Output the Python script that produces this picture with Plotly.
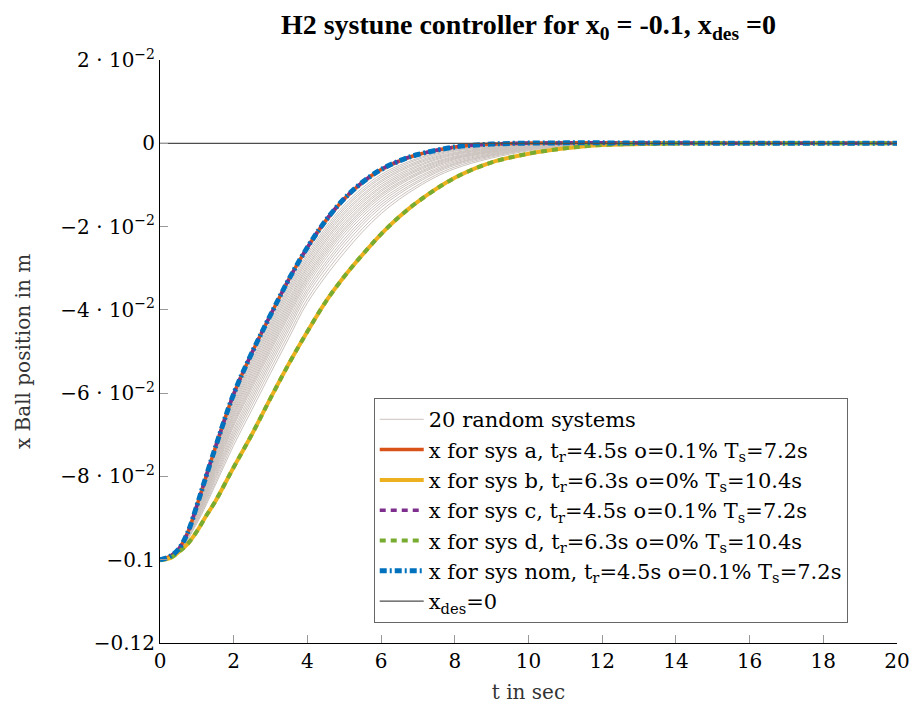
import plotly.graph_objects as go

# Time grid (s) for the detailed closed-loop responses
t_main = [0, 0.25, 0.5, 0.75, 1, 1.25, 1.5, 2, 2.5, 3, 3.5, 4, 4.5, 5, 5.5,
          6, 6.5, 7, 8, 9, 10, 11, 12, 14, 16, 18, 20]

# Fast designs (sys a, sys c, nominal) share the same response
x_fast = [-0.1, -0.0993, -0.0975, -0.0935, -0.0870, -0.0800, -0.0731, -0.0602,
          -0.0502, -0.0412, -0.0326, -0.0250, -0.0185, -0.0133, -0.0093,
          -0.0063, -0.0042, -0.0027, -0.0009, -0.0002, 0.00005, 0.0001,
          0.0001, 0.00005, 0.0, 0.0, 0.0]

# Slow designs (sys b, sys d)
x_slow = [-0.1, -0.0997, -0.0982, -0.0962, -0.0932, -0.0895, -0.0860, -0.0778,
          -0.0698, -0.0612, -0.0529, -0.0452, -0.0380, -0.0320, -0.0267,
          -0.0218, -0.0176, -0.0140, -0.0083, -0.0046, -0.0025, -0.0012,
          -0.0004, -0.00005, 0.0, 0.0, 0.0]

# 20 randomly perturbed plants, positions in units of 1e-4 m
t_rand = [0, 0.5, 1, 1.5, 2, 2.5, 3, 3.5, 4, 5, 6, 7, 8, 10, 12, 20]
x_rand_1e4 = [
    [-1000, -975, -872, -736, -609, -510, -420, -334, -258, -140, -69, -31, -12, -1, 0, 0],
    [-1000, -976, -875, -741, -616, -518, -428, -342, -265, -148, -75, -36, -15, -2, 0, 0],
    [-1000, -976, -877, -745, -621, -524, -434, -348, -271, -154, -80, -39, -17, -3, 0, 0],
    [-1000, -976, -879, -749, -627, -529, -440, -354, -277, -159, -84, -43, -19, -4, 0, 0],
    [-1000, -976, -881, -753, -632, -535, -446, -360, -282, -165, -89, -46, -22, -4, -1, 0],
    [-1000, -976, -882, -757, -637, -541, -452, -366, -288, -170, -93, -49, -24, -5, -1, 0],
    [-1000, -977, -884, -761, -643, -547, -458, -373, -294, -176, -98, -53, -26, -6, -1, 0],
    [-1000, -977, -886, -765, -648, -553, -464, -379, -299, -181, -103, -56, -28, -7, -1, 0],
    [-1000, -977, -888, -768, -653, -559, -470, -385, -305, -187, -107, -60, -31, -7, -1, 0],
    [-1000, -977, -890, -772, -658, -565, -476, -391, -311, -193, -112, -63, -33, -8, -1, 0],
    [-1000, -977, -892, -776, -664, -571, -482, -397, -317, -198, -116, -66, -35, -9, -1, 0],
    [-1000, -978, -894, -780, -669, -577, -488, -403, -322, -204, -121, -70, -37, -10, -1, 0],
    [-1000, -978, -895, -784, -674, -582, -494, -409, -328, -209, -125, -73, -39, -10, -2, 0],
    [-1000, -978, -897, -788, -679, -588, -500, -415, -334, -215, -130, -76, -42, -11, -2, 0],
    [-1000, -978, -900, -793, -687, -596, -508, -423, -341, -222, -136, -81, -45, -12, -2, 0],
    [-1000, -979, -902, -798, -694, -604, -516, -431, -349, -230, -142, -85, -48, -13, -2, 0],
    [-1000, -979, -905, -803, -701, -612, -524, -439, -356, -237, -148, -90, -50, -14, -2, 0],
    [-1000, -979, -907, -808, -708, -620, -532, -447, -364, -245, -154, -94, -53, -15, -3, 0],
    [-1000, -980, -910, -815, -716, -629, -542, -457, -374, -254, -162, -100, -57, -16, -3, 0],
    [-1000, -980, -913, -821, -725, -639, -552, -467, -383, -263, -169, -105, -61, -18, -4, 0],
]

# Reference position
t_des = [0, 20]
x_des = [0, 0]

# Axis ticks
x_ticks = [0, 2, 4, 6, 8, 10, 12, 14, 16, 18, 20]
y_ticks = [0.02, 0, -0.02, -0.04, -0.06, -0.08, -0.1, -0.12]
y_tick_text = ["2 \u00b7 10<sup>\u22122</sup>", "0",
               "\u22122 \u00b7 10<sup>\u22122</sup>", "\u22124 \u00b7 10<sup>\u22122</sup>",
               "\u22126 \u00b7 10<sup>\u22122</sup>", "\u22128 \u00b7 10<sup>\u22122</sup>",
               "\u22120.1", "\u22120.12"]

FONT = "DejaVu Serif"

fig = go.Figure()

for i, run in enumerate(x_rand_1e4):
    fig.add_trace(go.Scatter(
        x=t_rand, y=[v / 1e4 for v in run], mode="lines",
        line=dict(color="#cbc2bd", width=1, shape="spline"),
        name="20 random systems", legendgroup="rand", showlegend=(i == 0)))

fig.add_trace(go.Scatter(
    x=t_main, y=x_fast, mode="lines",
    line=dict(color="#D95319", width=3.5, shape="spline"),
    name="x for sys a, t<sub>r</sub>=4.5s o=0.1% T<sub>s</sub>=7.2s"))
fig.add_trace(go.Scatter(
    x=t_main, y=x_slow, mode="lines",
    line=dict(color="#EDB120", width=4, shape="spline"),
    name="x for sys b, t<sub>r</sub>=6.3s o=0% T<sub>s</sub>=10.4s"))
fig.add_trace(go.Scatter(
    x=t_main, y=x_fast, mode="lines",
    line=dict(color="#7E2F8E", width=3.5, dash="6px,5px", shape="spline"),
    name="x for sys c, t<sub>r</sub>=4.5s o=0.1% T<sub>s</sub>=7.2s"))
fig.add_trace(go.Scatter(
    x=t_main, y=x_slow, mode="lines",
    line=dict(color="#77AC30", width=4, dash="6px,5px", shape="spline"),
    name="x for sys d, t<sub>r</sub>=6.3s o=0% T<sub>s</sub>=10.4s"))
fig.add_trace(go.Scatter(
    x=t_main, y=x_fast, mode="lines",
    line=dict(color="#0072BD", width=5, dash="7px,3px,2px,3px", shape="spline"),
    name="x for sys nom, t<sub>r</sub>=4.5s o=0.1% T<sub>s</sub>=7.2s"))
fig.add_trace(go.Scatter(
    x=t_des, y=x_des, mode="lines",
    line=dict(color="#4d4d4d", width=1.2),
    name="x<sub>des</sub>=0"))

axis_common = dict(
    showline=True, linecolor="black", linewidth=1, mirror=False,
    showgrid=False, zeroline=False, automargin=False,
    ticks="inside", ticklen=8, tickwidth=1, tickcolor="#999999",
    tickfont=dict(family=FONT, size=20, color="black"),
)

fig.update_layout(
    width=915, height=709,
    margin=dict(l=160, r=18, t=60, b=66),
    paper_bgcolor="white", plot_bgcolor="white",
    font=dict(family=FONT, size=20, color="black"),
    title=dict(
        text="<b>H2 systune controller for x<sub>0</sub> = -0.1, x<sub>des</sub> =0</b>",
        font=dict(family="Liberation Serif", size=28, color="black"),
        x=(160 + 897) / 2 / 915, xanchor="center", y=0.966, yanchor="middle"),
    xaxis=dict(range=[0, 20], tickvals=x_ticks,
               title=dict(text="t in sec", font=dict(family=FONT, size=20, color="#333333"),
                          standoff=12),
               **axis_common),
    yaxis=dict(range=[-0.12, 0.02], tickvals=y_ticks, ticktext=y_tick_text,
               title=dict(text="x Ball position in m",
                          font=dict(family=FONT, size=20, color="#333333"), standoff=24),
               **axis_common),
    legend=dict(
        x=0.290, y=0.420, xanchor="left", yanchor="top",
        bgcolor="white", bordercolor="#666666", borderwidth=1,
        font=dict(family=FONT, size=21, color="black"),
        tracegroupgap=0, itemwidth=44),
    showlegend=True,
)

fig.write_html("out.html")
